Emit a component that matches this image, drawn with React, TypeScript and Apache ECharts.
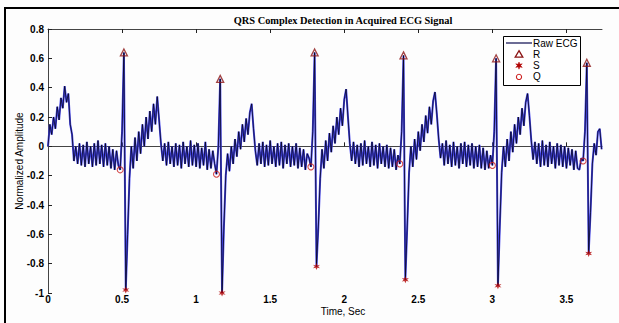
import React, { useEffect, useRef } from "react";
import * as echarts from "echarts";

// Sampling of the raw ECG trace (seconds between samples)
const sampleInterval = 0.0125;

// Raw ECG amplitudes (300 samples, 0 .. 3.7375 s)
const ecgValues = [
  0.0, 0.15, 0.08, 0.2, 0.12, 0.27, 0.18, 0.33, 0.26, 0.41,
  0.3, 0.36, 0.15, 0.08, -0.1, 0.0, -0.12, 0.02, -0.13, 0.01,
  -0.14, 0.03, -0.12, 0.0, -0.14, 0.02, -0.13, 0.04, -0.12, 0.01,
  -0.14, 0.02, -0.13, 0.0, -0.15, -0.02, -0.16, -0.03, -0.13, -0.16,
  0.1, 0.64, -0.98, -0.6, -0.22, 0.0, -0.15, 0.06, -0.1, 0.1,
  -0.05, 0.15, 0.0, 0.2, 0.05, 0.24, 0.1, 0.29, 0.15, 0.34,
  0.18, 0.02, -0.1, 0.02, -0.13, 0.03, -0.12, 0.0, -0.14, 0.02,
  -0.13, 0.01, -0.15, 0.03, -0.12, 0.0, -0.14, 0.04, -0.13, 0.01,
  -0.14, 0.02, -0.15, -0.01, -0.13, 0.03, -0.16, -0.02, -0.15, -0.03,
  -0.12, -0.19, 0.0, 0.46, -1.0, -0.55, -0.2, -0.05, -0.17, 0.0,
  -0.12, 0.05, -0.07, 0.1, -0.02, 0.15, 0.03, 0.19, 0.08, 0.23,
  0.29, 0.12, -0.03, -0.13, 0.02, -0.12, 0.03, -0.14, 0.01, -0.13,
  0.04, -0.12, 0.0, -0.14, 0.02, -0.13, 0.03, -0.15, 0.01, -0.12,
  0.02, -0.14, 0.0, -0.13, 0.02, -0.15, -0.01, -0.14, -0.02, -0.16,
  -0.05, -0.08, -0.14, 0.1, 0.64, -0.82, -0.55, -0.22, -0.02, -0.15,
  0.04, -0.1, 0.09, -0.04, 0.14, 0.02, 0.2, 0.08, 0.26, 0.14,
  0.32, 0.39, 0.2, 0.02, -0.1, 0.03, -0.12, 0.01, -0.14, 0.02,
  -0.13, 0.04, -0.12, 0.0, -0.14, 0.03, -0.13, 0.01, -0.15, 0.02,
  -0.12, 0.0, -0.14, 0.01, -0.15, -0.01, -0.14, -0.02, -0.16, -0.06,
  -0.12, 0.1, 0.62, -0.91, -0.55, -0.18, 0.0, -0.14, 0.05, -0.09,
  0.1, -0.03, 0.15, 0.03, 0.21, 0.09, 0.27, 0.15, 0.31, 0.37,
  0.22, 0.05, -0.08, 0.02, -0.13, 0.04, -0.12, 0.01, -0.14, 0.03,
  -0.13, 0.0, -0.15, 0.02, -0.12, 0.03, -0.14, 0.01, -0.13, 0.02,
  -0.15, 0.0, -0.14, 0.01, -0.15, -0.01, -0.16, -0.03, -0.15, -0.06,
  -0.13, 0.1, 0.6, -0.95, -0.55, -0.18, 0.0, -0.14, 0.05, -0.1,
  0.1, -0.04, 0.15, 0.02, 0.2, 0.08, 0.26, 0.14, 0.3, 0.36,
  0.21, 0.04, -0.09, 0.03, -0.12, 0.02, -0.14, 0.04, -0.13, 0.01,
  -0.14, 0.03, -0.12, 0.0, -0.15, 0.02, -0.13, 0.01, -0.14, 0.0,
  -0.15, -0.01, -0.13, -0.02, -0.16, -0.03, -0.15, -0.16, -0.08, -0.1,
  0.1, 0.57, -0.73, -0.45, -0.12, 0.02, -0.06, 0.1, 0.12, -0.02,
];

// Detected points
const rTimes = [0.5125, 1.1625, 1.8, 2.4, 3.025, 3.6375];
const rValues = [0.64, 0.46, 0.64, 0.62, 0.6, 0.57];
const sTimes = [0.525, 1.175, 1.8125, 2.4125, 3.0375, 3.65];
const sValues = [-0.98, -1.0, -0.82, -0.91, -0.95, -0.73];
const qTimes = [0.4875, 1.1375, 1.775, 2.375, 3.0, 3.6125];
const qValues = [-0.16, -0.19, -0.14, -0.12, -0.13, -0.1];

const xTickValues = [0, 0.5, 1, 1.5, 2, 2.5, 3, 3.5];
const xMin = 0;
const xMax = 3.74;
const yMin = -1;
const yMax = 0.8;
const yInterval = 0.2;

const titleText = "QRS Complex Detection in Acquired ECG Signal";
const xName = "Time, Sec";
const yName = "Normalized Amplitude";
const legendNames = ["Raw ECG", "R", "S", "Q"];

const ecgColor = "#000000";
const ecgUnderColor = "#4444ee";
const rColor = "#8b1414";
const sColor = "#b00000";
const qColor = "#cc2020";

const starPath =
  "path://M0,-10 L2.5,-3.5 L9,-5 L4.5,0 L9,5 L2.5,3.5 L0,10 L-2.5,3.5 L-9,5 L-4.5,0 L-9,-5 L-2.5,-3.5 Z";
const starPts = [
  [0, -10], [2.5, -3.5], [9, -5], [4.5, 0], [9, 5], [2.5, 3.5],
  [0, 10], [-2.5, 3.5], [-9, 5], [-4.5, 0], [-9, -5], [-2.5, -3.5],
];

const sans = "Liberation Sans, Arial, sans-serif";

export default function App() {
  const ref = useRef<HTMLDivElement>(null);
  useEffect(() => {
    const chart = echarts.init(ref.current!, null, { renderer: "svg" });
    const ecg = ecgValues.map((v, i) => [+(i * sampleInterval).toFixed(4), v]);
    const pairs = (t: number[], v: number[]) => t.map((x, i) => [x, v[i]]);
    const axisLine = { show: true, lineStyle: { color: "#444", width: 1 } };
    const tick = {
      show: true,
      inside: true,
      length: 4,
      lineStyle: { color: "#222" },
      customValues: xTickValues,
    };

    // legend drawn by hand (box at 503,36 size 77x49)
    const lgX = 503;
    const lgY = 36;
    const rowY = (k: number) => lgY + 7 + k * 11.3;
    const iconX = 519;
    const textX = 533;
    const legendText = legendNames.map((n, k) => ({
      type: "text",
      x: textX,
      y: rowY(k),
      z: 101,
      style: {
        text: n,
        fill: "#000",
        font: `10px ${sans}`,
        textAlign: "left",
        textVerticalAlign: "middle",
      },
    }));

    chart.setOption({
      animation: false,
      backgroundColor: "#fdfdfd",
      grid: { left: 48, top: 29, right: 17, bottom: 30 },
      xAxis: [
        {
          type: "value",
          min: xMin,
          max: xMax,
          interval: 0.5,
          axisLine,
          axisTick: tick,
          splitLine: { show: false },
          axisLabel: {
            customValues: xTickValues,
            color: "#000",
            fontFamily: sans,
            fontSize: 10,
            lineHeight: 10,
            fontWeight: "bold",
            margin: 1,
          },
        },
        {
          type: "value",
          position: "top",
          min: xMin,
          max: xMax,
          interval: 0.5,
          axisLine,
          axisTick: tick,
          splitLine: { show: false },
          axisLabel: { show: false },
        },
      ],
      yAxis: {
        type: "value",
        min: yMin,
        max: yMax,
        interval: yInterval,
        axisLine,
        axisTick: { show: true, inside: true, length: 4, lineStyle: { color: "#222" } },
        splitLine: { show: false },
        axisLabel: {
          color: "#000",
          fontFamily: sans,
          fontSize: 10,
          fontWeight: "bold",
          margin: 4,
          formatter: (v: number) => String(Math.round(v * 10) / 10),
        },
      },
      graphic: [
        { type: "line", shape: { x1: 5, y1: 8, x2: 5, y2: 323 }, style: { stroke: "#000", lineWidth: 2 } },
        { type: "line", shape: { x1: 4, y1: 8, x2: 619, y2: 8 }, style: { stroke: "#000", lineWidth: 2 } },
        {
          type: "text",
          x: 343,
          y: 20,
          style: {
            text: titleText,
            fill: "#000",
            font: "bold 10.4px 'Liberation Serif', serif",
            textAlign: "center",
            textVerticalAlign: "middle",
          },
        },
        {
          type: "text",
          x: 343,
          y: 311,
          style: {
            text: xName,
            fill: "#000",
            font: `10px ${sans}`,
            textAlign: "center",
            textVerticalAlign: "middle",
          },
        },
        {
          type: "text",
          x: 19,
          y: 161,
          rotation: Math.PI / 2,
          style: {
            text: yName,
            fill: "#000",
            font: `10px ${sans}`,
            textAlign: "center",
            textVerticalAlign: "middle",
          },
        },
        {
          type: "rect",
          z: 100,
          shape: { x: lgX + 0.5, y: lgY + 0.5, width: 77, height: 49 },
          style: { fill: "#fff", stroke: "#000", lineWidth: 1 },
        },
        {
          type: "line",
          z: 101,
          shape: { x1: 506, y1: rowY(0), x2: 532, y2: rowY(0) },
          style: { stroke: "#1c1c5c", lineWidth: 1.3 },
        },
        {
          type: "polygon",
          z: 101,
          shape: {
            points: [
              [iconX, rowY(1) - 3.6],
              [iconX + 3.8, rowY(1) + 2.8],
              [iconX - 3.8, rowY(1) + 2.8],
            ],
          },
          style: { fill: "none", stroke: rColor, lineWidth: 1.3 },
        },
        {
          type: "polygon",
          z: 101,
          shape: { points: starPts.map(([a, b]) => [iconX + a * 0.36, rowY(2) + b * 0.36]) },
          style: { fill: sColor, stroke: sColor, lineWidth: 0.5 },
        },
        {
          type: "circle",
          z: 101,
          shape: { cx: iconX, cy: rowY(3), r: 2.6 },
          style: { fill: "none", stroke: qColor, lineWidth: 1.1 },
        },
        ...legendText,
      ],
      series: [
        {
          name: "ECG underlay",
          type: "line",
          data: ecg,
          symbol: "none",
          lineStyle: { color: ecgUnderColor, width: 2 },
          z: 2,
          silent: true,
        },
        {
          name: "Raw ECG",
          type: "line",
          data: ecg,
          symbol: "none",
          lineStyle: { color: ecgColor, width: 0.7 },
          z: 3,
        },
        {
          name: "R",
          type: "scatter",
          data: pairs(rTimes, rValues),
          symbol: "triangle",
          symbolSize: 7,
          itemStyle: { color: "rgba(255,255,255,0)", borderColor: rColor, borderWidth: 1.3 },
          z: 5,
        },
        {
          name: "S",
          type: "scatter",
          data: pairs(sTimes, sValues),
          symbol: starPath,
          symbolSize: 7,
          itemStyle: { color: sColor },
          z: 5,
        },
        {
          name: "Q",
          type: "scatter",
          data: pairs(qTimes, qValues),
          symbol: "circle",
          symbolSize: 6,
          itemStyle: { color: "rgba(255,255,255,0)", borderColor: qColor, borderWidth: 1.1 },
          z: 5,
        },
      ],
    });
    return () => chart.dispose();
  }, []);
  return (
    <div
      ref={ref}
      style={{ position: "fixed", left: 0, top: 0, width: 619, height: 323, background: "#fdfdfd" }}
    />
  );
}
